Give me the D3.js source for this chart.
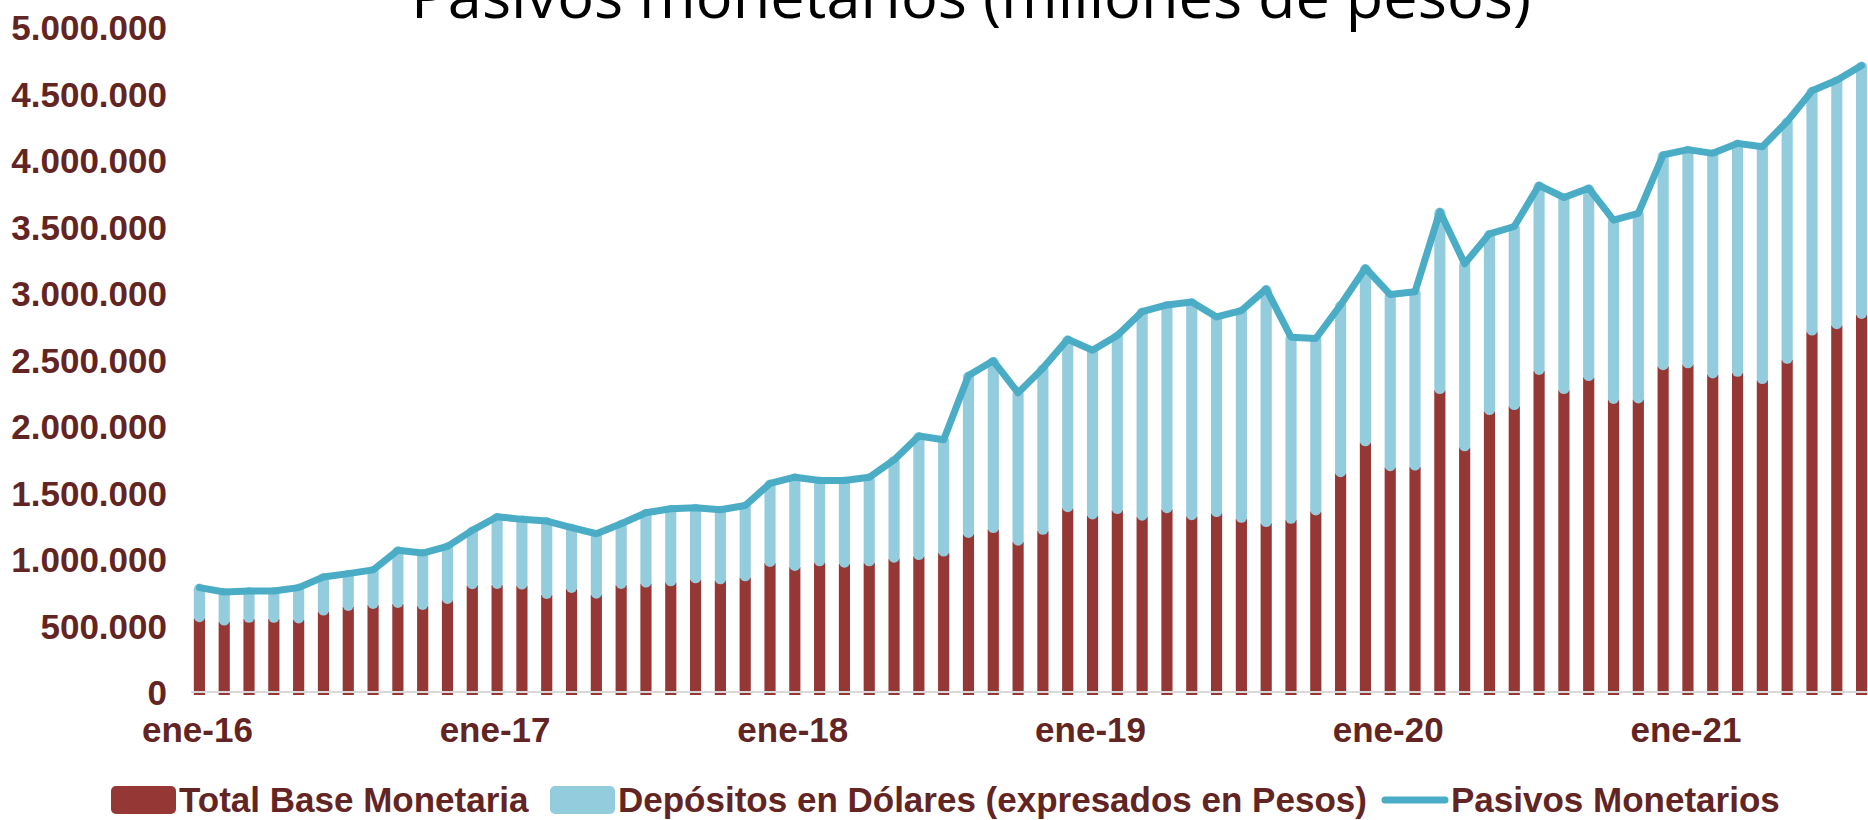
<!DOCTYPE html>
<html>
<head>
<meta charset="utf-8">
<script src="https://cdn.jsdelivr.net/npm/d3@7"></script>
<style>
    html, body { margin: 0; padding: 0; background: #ffffff; }
    #chart { width: 1868px; height: 820px; }
</style>
</head>
<body>
<div id="chart"></div>
<script>

// Months (ene-16 .. ago-21)
const months = [
    "ene-16","feb-16","mar-16","abr-16","may-16","jun-16","jul-16","ago-16","sep-16","oct-16","nov-16","dic-16",
    "ene-17","feb-17","mar-17","abr-17","may-17","jun-17","jul-17","ago-17","sep-17","oct-17","nov-17","dic-17",
    "ene-18","feb-18","mar-18","abr-18","may-18","jun-18","jul-18","ago-18","sep-18","oct-18","nov-18","dic-18",
    "ene-19","feb-19","mar-19","abr-19","may-19","jun-19","jul-19","ago-19","sep-19","oct-19","nov-19","dic-19",
    "ene-20","feb-20","mar-20","abr-20","may-20","jun-20","jul-20","ago-20","sep-20","oct-20","nov-20","dic-20",
    "ene-21","feb-21","mar-21","abr-21","may-21","jun-21","jul-21","ago-21"
];

// Total Base Monetaria (millones de pesos)
const baseMonetaria = [
    555000, 530000, 550000, 550000, 546000, 605000, 640000, 655000, 662000, 647000, 692000, 803000,
    805000, 800000, 730000, 775000, 732000, 805000, 815000, 825000, 847000, 840000, 862000, 970000,
    940000, 975000, 965000, 975000, 1002000, 1022000, 1048000, 1188000, 1225000, 1130000, 1212000, 1382000,
    1328000, 1368000, 1318000, 1375000, 1322000, 1345000, 1302000, 1270000, 1295000, 1358000, 1645000, 1877000,
    1690000, 1695000, 2270000, 1840000, 2112000, 2150000, 2414000, 2270000, 2368000, 2196000, 2200000, 2450000,
    2464000, 2388000, 2400000, 2345000, 2498000, 2710000, 2758000, 2835000
];

// Pasivos Monetarios = base + depositos en dolares (millones de pesos)
const pasivosMonetarios = [
    785000, 752000, 760000, 760000, 785000, 865000, 890000, 918000, 1065000, 1045000, 1095000, 1215000,
    1318000, 1298000, 1285000, 1236000, 1190000, 1265000, 1348000, 1378000, 1385000, 1370000, 1402000, 1568000,
    1615000, 1590000, 1590000, 1614000, 1745000, 1925000, 1897000, 2380000, 2490000, 2250000, 2435000, 2652000,
    2570000, 2680000, 2860000, 2910000, 2932000, 2820000, 2868000, 3030000, 2668000, 2658000, 2910000, 3188000,
    2988000, 3010000, 3612000, 3220000, 3445000, 3500000, 3810000, 3718000, 3788000, 3548000, 3598000, 4038000,
    4078000, 4050000, 4125000, 4100000, 4290000, 4520000, 4600000, 4710000
];

const yTicks = [0, 500000, 1000000, 1500000, 2000000, 2500000, 3000000, 3500000, 4000000, 4500000, 5000000];
const xTicks = ["ene-16", "ene-17", "ene-18", "ene-19", "ene-20", "ene-21"];

const seriesNames = ["Total Base Monetaria", "Depósitos en Dólares (expresados en Pesos)", "Pasivos Monetarios"];
const chartTitle = "Pasivos monetarios (millones de pesos)";

class PasivosVis {
    constructor(parentElement) {
        this.parentElement = parentElement;
        this.initVis();
    }

    initVis() {
        let vis = this;

        vis.width = 1868;
        vis.height = 820;

        vis.colors = {
            base: "#953735",
            dep: "#93cddd",
            line: "#4bacc6",
            text: "#632523",
            axis: "#d9d9d9"
        };

        vis.svg = d3.select("#" + vis.parentElement).append("svg")
            .attr("width", vis.width)
            .attr("height", vis.height);

        vis.displayData = months.map((m, i) => ({
            month: m,
            base: baseMonetaria[i],
            total: pasivosMonetarios[i]
        }));

        // Scales
        vis.x = d3.scaleBand()
            .domain(months)
            .range([187, 1874])
            .paddingInner(0.55)
            .paddingOuter(0.275);

        vis.y = d3.scaleLinear()
            .domain([0, 5000000])
            .range([692, 27]);

        vis.locale = d3.formatLocale({decimal: ",", thousands: ".", grouping: [3], currency: ["$", ""]});
        vis.fmt = vis.locale.format(",d");

        vis.updateVis();
    }

    updateVis() {
        let vis = this;
        let y0 = vis.y(0);
        let bw = vis.x.bandwidth();

        // Title (partly cut off by the top edge, like the original)
        vis.svg.append("text")
            .attr("x", 971)
            .attr("y", 18)
            .attr("text-anchor", "middle")
            .attr("textLength", 1120)
            .attr("lengthAdjust", "spacingAndGlyphs")
            .style("font-family", "'Open Sans', sans-serif")
            .style("font-size", "60px")
            .style("fill", "#000000")
            .text(chartTitle);

        // Bars
        let bars = vis.svg.append("g").attr("class", "bars");

        bars.selectAll("rect.base")
            .data(vis.displayData)
            .enter()
            .append("rect")
            .attr("class", "base")
            .attr("x", d => vis.x(d.month))
            .attr("width", bw)
            .attr("y", d => vis.y(d.base))
            .attr("height", d => y0 - vis.y(d.base) + 3)
            .attr("fill", vis.colors.base);

        // light blue segment, round ends like the source
        bars.selectAll("rect.dep")
            .data(vis.displayData)
            .enter()
            .append("rect")
            .attr("class", "dep")
            .attr("x", d => vis.x(d.month))
            .attr("width", bw)
            .attr("y", d => vis.y(d.total) - 4)
            .attr("height", d => vis.y(d.base) - vis.y(d.total) + 8)
            .attr("rx", bw / 2)
            .attr("fill", vis.colors.dep);

        // Axis line
        vis.svg.append("line")
            .attr("x1", 191)
            .attr("x2", 1868)
            .attr("y1", y0)
            .attr("y2", y0)
            .attr("stroke", vis.colors.axis)
            .attr("stroke-width", 2);

        // Line
        let line = d3.line()
            .x(d => vis.x(d.month) + bw / 2)
            .y(d => vis.y(d.total));

        vis.svg.append("path")
            .datum(vis.displayData)
            .attr("d", line)
            .attr("fill", "none")
            .attr("stroke", vis.colors.line)
            .attr("stroke-width", 7)
            .attr("stroke-linejoin", "round")
            .attr("stroke-linecap", "round");

        // Y axis labels
        vis.yAxis = d3.axisLeft(vis.y)
            .tickValues(yTicks)
            .tickFormat(vis.fmt)
            .tickSize(0)
            .tickPadding(0);

        vis.yAxisGroup = vis.svg.append("g")
            .attr("class", "axis y-axis")
            .attr("transform", "translate(167,0)")
            .call(vis.yAxis);

        vis.yAxisGroup.select(".domain").remove();
        vis.yAxisGroup.selectAll("text")
            .attr("dy", "0.36em")
            .style("font-family", "'Liberation Sans', Arial, sans-serif")
            .style("font-weight", "bold")
            .style("font-size", "35px")
            .style("fill", vis.colors.text);

        // X axis labels
        vis.xAxis = d3.axisBottom(vis.x)
            .tickValues(xTicks)
            .tickSize(0)
            .tickPadding(0);

        vis.xAxisGroup = vis.svg.append("g")
            .attr("class", "axis x-axis")
            .attr("transform", "translate(-2,742)")
            .call(vis.xAxis);

        vis.xAxisGroup.select(".domain").remove();
        vis.xAxisGroup.selectAll("text")
            .attr("dy", 0)
            .attr("y", 0)
            .style("font-family", "'Liberation Sans', Arial, sans-serif")
            .style("font-weight", "bold")
            .style("font-size", "35px")
            .style("fill", vis.colors.text);

        // Legend
        let legend = vis.svg.append("g").attr("class", "legend");
        let legendItems = [
            {name: seriesNames[0], type: "rect", color: vis.colors.base, sx: 111, tx: 179},
            {name: seriesNames[1], type: "rect", color: vis.colors.dep, sx: 550, tx: 618},
            {name: seriesNames[2], type: "line", color: vis.colors.line, sx: 1385, tx: 1451}
        ];

        legendItems.forEach(item => {
            if (item.type === "rect") {
                legend.append("rect")
                    .attr("x", item.sx)
                    .attr("y", 786)
                    .attr("width", 65)
                    .attr("height", 28)
                    .attr("rx", 5)
                    .attr("fill", item.color);
            } else {
                legend.append("line")
                    .attr("x1", item.sx)
                    .attr("x2", item.sx + 60)
                    .attr("y1", 800)
                    .attr("y2", 800)
                    .attr("stroke", item.color)
                    .attr("stroke-width", 7)
                    .attr("stroke-linecap", "round");
            }
            legend.append("text")
                .attr("x", item.tx)
                .attr("y", 812)
                .style("font-family", "'Liberation Sans', Arial, sans-serif")
                .style("font-weight", "bold")
                .style("font-size", "35px")
                .style("fill", vis.colors.text)
                .text(item.name);
        });
    }
}

let pasivosVis = new PasivosVis("chart");

</script>
</body>
</html>
